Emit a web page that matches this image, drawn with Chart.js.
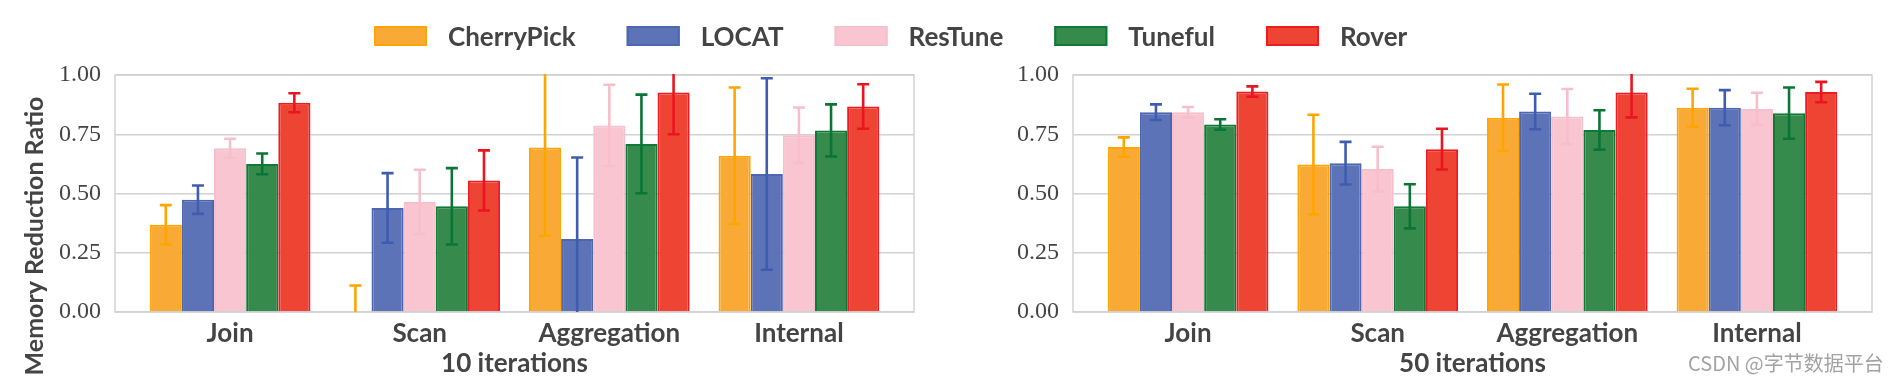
<!DOCTYPE html>
<html>
<head>
<meta charset="utf-8">
<script src="https://cdn.jsdelivr.net/npm/chart.js@4.4.0/dist/chart.umd.min.js"></script>
<style>
html,body{margin:0;padding:0;background:#fff;}
#wrap{position:relative;width:1892px;height:382px;overflow:hidden;}
canvas{position:absolute;left:0;top:0;}
</style>
</head>
<body>
<div id="wrap">
<canvas id="c1" width="1892" height="382"></canvas>
<canvas id="c2" width="1892" height="382"></canvas>
</div>
<script>
// ---------------- data ----------------
const categories = ['Join', 'Scan', 'Aggregation', 'Internal'];
const seriesNames = ['CherryPick', 'LOCAT', 'ResTune', 'Tuneful', 'Rover'];
const yTickValues = [0, 0.25, 0.5, 0.75, 1.0];
const panelTitles = ['10 iterations', '50 iterations'];
const yAxisLabel = 'Memory Reduction Ratio';
const watermarkText = 'CSDN @字节数据平台';

// 10 iterations (mean, error half-width)
const cherryPick10 = [0.368, 0.000, 0.694, 0.659];
const cherryPick10Err = [0.083, 0.112, 0.372, 0.288];
const locat10 = [0.474, 0.439, 0.308, 0.582];
const locat10Err = [0.060, 0.147, 0.344, 0.404];
const resTune10 = [0.691, 0.464, 0.787, 0.746];
const resTune10Err = [0.040, 0.136, 0.172, 0.117];
const tuneful10 = [0.625, 0.446, 0.709, 0.766];
const tuneful10Err = [0.044, 0.161, 0.208, 0.110];
const rover10 = [0.883, 0.555, 0.926, 0.867];
const rover10Err = [0.040, 0.127, 0.176, 0.094];

// 50 iterations (mean, error half-width)
const cherryPick50 = [0.696, 0.622, 0.820, 0.862];
const cherryPick50Err = [0.041, 0.210, 0.140, 0.080];
const locat50 = [0.843, 0.628, 0.846, 0.862];
const locat50Err = [0.033, 0.090, 0.075, 0.074];
const resTune50 = [0.843, 0.603, 0.825, 0.857];
const resTune50Err = [0.022, 0.094, 0.116, 0.068];
const tuneful50 = [0.791, 0.446, 0.768, 0.839];
const tuneful50Err = [0.022, 0.093, 0.083, 0.108];
const rover50 = [0.930, 0.687, 0.926, 0.928];
const rover50Err = [0.022, 0.086, 0.105, 0.043];

// ---------------- styles ----------------
const fillColors = ['#F9AA36', '#5D73B8', '#F8C5D1', '#358A4C', '#EE4433'];
const edgeColors = ['#FFA400', '#4D66B0', '#F7BECB', '#0D7A38', '#EE1B24'];
const errColors  = ['#FFA500', '#3F5DAE', '#F7BFCB', '#0A7537', '#EA1520'];
const textColor = '#444444';
const gridColor = '#d2d2d2';
const sansBold = {family: 'Lato', weight: 'bold', size: 26};

const errorBarPlugin = {
  id: 'errorBars',
  afterDatasetsDraw(chart) {
    const {ctx, chartArea: a, scales: {y}} = chart;
    ctx.save();
    ctx.beginPath();
    ctx.rect(a.left, a.top - 1, a.width, a.height + 1);
    ctx.clip();
    chart.data.datasets.forEach((ds, di) => {
      const meta = chart.getDatasetMeta(di);
      meta.data.forEach((bar, i) => {
        const v = ds.data[i].y, e = ds.errors[i];
        const yt = y.getPixelForValue(v + e), yb = y.getPixelForValue(v - e);
        ctx.strokeStyle = ds.errColor;
        ctx.lineWidth = 2.6;
        ctx.beginPath();
        ctx.moveTo(bar.x, yt); ctx.lineTo(bar.x, yb);
        ctx.moveTo(bar.x - 6, yt); ctx.lineTo(bar.x + 6, yt);
        ctx.moveTo(bar.x - 6, yb); ctx.lineTo(bar.x + 6, yb);
        ctx.stroke();
      });
    });
    ctx.restore();
  }
};

const framePlugin = {
  id: 'frame',
  beforeDatasetsDraw(chart) {
    const {ctx, chartArea: a} = chart;
    ctx.save();
    ctx.strokeStyle = gridColor;
    ctx.lineWidth = 1.5;
    ctx.strokeRect(a.left, a.top, a.width, a.height);
    ctx.restore();
  }
};

const legendAndLabelPlugin = {
  id: 'legendAndLabel',
  afterDraw(chart) {
    const {ctx} = chart;
    ctx.save();
    // y axis label
    ctx.font = 'bold 25px Lato';
    ctx.fillStyle = textColor;
    ctx.textAlign = 'center';
    ctx.textBaseline = 'alphabetic';
    ctx.translate(43, 236);
    ctx.rotate(-Math.PI / 2);
    ctx.fillText(yAxisLabel, 0, 0);
    ctx.restore();
    // legend
    ctx.save();
    ctx.font = 'bold 26px Lato';
    ctx.textBaseline = 'alphabetic';
    ctx.textAlign = 'left';
    let x = 374;
    seriesNames.forEach((name, i) => {
      ctx.fillStyle = fillColors[i];
      ctx.fillRect(x, 26, 53, 20);
      ctx.strokeStyle = edgeColors[i];
      ctx.lineWidth = 2;
      ctx.strokeRect(x + 1, 27, 51, 18);
      ctx.fillStyle = textColor;
      const tx = x + 53 + 21;
      ctx.fillText(name, tx, 46);
      x = tx + ctx.measureText(name).width + 51;
    });
    ctx.restore();
  }
};

const watermarkPlugin = {
  id: 'watermark',
  afterDraw(chart) {
    const {ctx} = chart;
    ctx.save();
    ctx.font = '20px "Noto Sans CJK SC"';
    ctx.fillStyle = '#a3a3a3';
    ctx.textAlign = 'left';
    ctx.textBaseline = 'alphabetic';
    ctx.fillText(watermarkText, 1688, 371);
    ctx.restore();
  }
};

function makeChart(canvasId, means, errs, title, padLeft, padRight, extraPlugins) {
  const datasets = seriesNames.map((name, si) => ({
    label: name,
    data: categories.map((c, ci) => ({x: ci, y: means[si][ci]})),
    errors: errs[si],
    errColor: errColors[si],
    backgroundColor: fillColors[si],
    borderColor: edgeColors[si],
    borderWidth: 2,
    categoryPercentage: 0.8475,
    barPercentage: 1.0
  }));
  return new Chart(document.getElementById(canvasId), {
    type: 'bar',
    data: {datasets},
    options: {
      responsive: false,
      animation: false,
      devicePixelRatio: 1,
      layout: {padding: {left: padLeft, right: padRight, top: 75, bottom: 0}},
      plugins: {legend: {display: false}, tooltip: {enabled: false}, title: {display: false}},
      scales: {
        x: {
          type: 'linear',
          min: -0.607,
          max: 3.607,
          offset: false,
          afterBuildTicks: s => { s.ticks = categories.map((c, i) => ({value: i})); },
          afterFit: s => { s.height = 70; },
          ticks: {
            callback: (v, i) => categories[i],
            font: sansBold,
            color: textColor,
            padding: 6,
            autoSkip: false,
            maxRotation: 0,
            minRotation: 0
          },
          grid: {display: false, drawTicks: false},
          border: {display: false},
          title: {display: true, text: title, font: sansBold, color: textColor, padding: {top: 0, bottom: 3}}
        },
        y: {
          min: 0,
          max: 1,
          afterBuildTicks: s => { s.ticks = yTickValues.map(v => ({value: v})); },
          afterFit: s => { s.width = 115; },
          ticks: {
            callback: v => Number(v).toFixed(2),
            font: {family: 'Liberation Serif', size: 24},
            color: textColor,
            padding: 14
          },
          grid: {color: gridColor, lineWidth: 1.5, drawTicks: false},
          border: {display: false}
        }
      }
    },
    plugins: [framePlugin, errorBarPlugin].concat(extraPlugins)
  });
}

function build() {
  makeChart('c1',
    [cherryPick10, locat10, resTune10, tuneful10, rover10],
    [cherryPick10Err, locat10Err, resTune10Err, tuneful10Err, rover10Err],
    panelTitles[0], 0, 1892 - 914, [legendAndLabelPlugin]);
  makeChart('c2',
    [cherryPick50, locat50, resTune50, tuneful50, rover50],
    [cherryPick50Err, locat50Err, resTune50Err, tuneful50Err, rover50Err],
    panelTitles[1], 1073 - 115, 1892 - 1872, [watermarkPlugin]);
}

const fontLoads = [
  document.fonts.load('bold 26px Lato'),
  document.fonts.load('24px "Liberation Serif"'),
  document.fonts.load('20px "Noto Sans CJK SC"')
];
Promise.all(fontLoads).then(build, build);
</script>
</body>
</html>
